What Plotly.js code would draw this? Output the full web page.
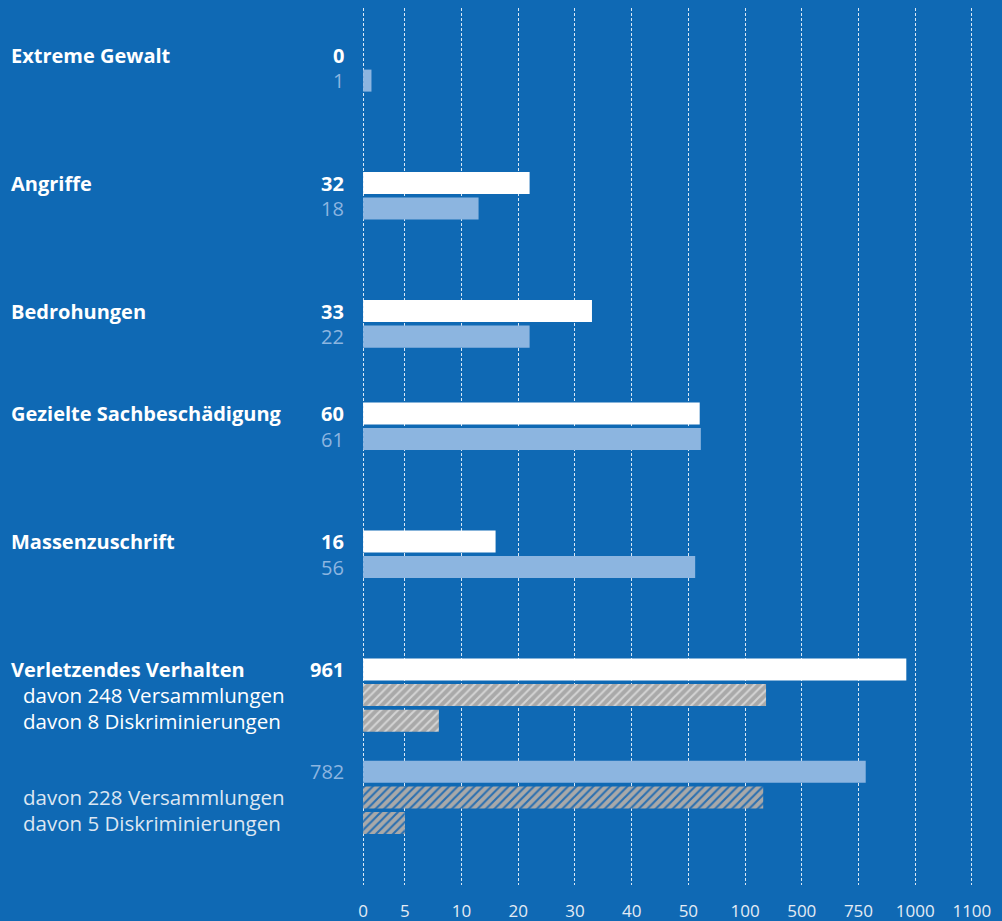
<!DOCTYPE html>
<html>
<head>
<meta charset="utf-8">
<script src="https://cdn.plot.ly/plotly-3.0.1.min.js"></script>
<style>
  html, body { margin: 0; padding: 0; background: #0F69B4; }
  #chart { width: 1002px; height: 921px; }
</style>
</head>
<body>
<div id="chart"></div>
<script>
// ---------------- DATA ----------------
const categories = ["Extreme Gewalt", "Angriffe", "Bedrohungen", "Gezielte Sachbeschädigung", "Massenzuschrift", "Verletzendes Verhalten"];
// printed values (labels)
const currentValues  = [0, 32, 33, 60, 16, 961];
const previousValues = [1, 18, 22, 61, 56, 782];
// bar lengths as drawn in the reference (the original draws "Angriffe" shorter than its labels)
const currentBars  = [0, 22, 33, 60, 16, 961];
const previousBars = [1, 13, 22, 61, 56, 782];
// breakdown of "Verletzendes Verhalten"
const subLabelsCurrent  = ["davon 248 Versammlungen", "davon 8 Diskriminierungen"];
const subValuesCurrent  = [248, 8];
const subLabelsPrevious = ["davon 228 Versammlungen", "davon 5 Diskriminierungen"];
const subValuesPrevious = [228, 5];
// axis ticks (non-linear, piecewise scale)
const tickValues = [0, 5, 10, 20, 30, 40, 50, 100, 500, 750, 1000, 1100];

// ---------------- LAYOUT HELPERS ----------------
// tick positions on the internal linear axis (first interval is shorter in the original)
const tickPos = tickValues.map((v, i) => i === 0 ? 0 : 0.736 + (i - 1));
function scale(v) {
  for (let i = 1; i < tickValues.length; i++) {
    if (v <= tickValues[i]) {
      const a = tickValues[i - 1], b = tickValues[i];
      return tickPos[i - 1] + (v - a) / (b - a) * (tickPos[i] - tickPos[i - 1]);
    }
  }
  return tickPos[tickPos.length - 1];
}
// row slots (vertical layout of the groups)
const slotCurrent  = [2, 7, 12, 16, 21, 26];
const slotPrevious = [3, 8, 13, 17, 22, 30];
const slotSubCurrent  = [27, 28];
const slotSubPrevious = [31, 32];

const BG = "#0F69B4";
const LIGHT = "#8CB5E0";
const FONT = "Open Sans, Noto Sans, sans-serif";
const barW = 0.86;

const plotLeft = 362, plotRight = 0, W = 1002;
const plotWidth = W - plotLeft - plotRight;
const px = (x) => (x - plotLeft) / plotWidth;

const traces = [
  {
    type: "bar", orientation: "h",
    y: slotCurrent, x: currentBars.map(scale),
    width: barW, marker: { color: "#FFFFFF", line: { width: 0 } },
    hoverinfo: "skip"
  },
  {
    type: "bar", orientation: "h",
    y: slotPrevious, x: previousBars.map(scale),
    width: barW, marker: { color: LIGHT, line: { width: 0 } },
    hoverinfo: "skip"
  },
  {
    type: "bar", orientation: "h",
    y: slotSubCurrent, x: subValuesCurrent.map(scale),
    width: barW,
    marker: { color: "#A9A9A9", line: { width: 0 },
      pattern: { shape: "/", bgcolor: "#A9A9A9", fgcolor: "#D4D4D4", size: 6, solidity: 0.35 } },
    hoverinfo: "skip"
  },
  {
    type: "bar", orientation: "h",
    y: slotSubPrevious, x: subValuesPrevious.map(scale),
    width: barW,
    marker: { color: "#A9A9A9", line: { width: 0 },
      pattern: { shape: "/", bgcolor: "#A9A9A9", fgcolor: "#2A6FB0", size: 6, solidity: 0.35 } },
    hoverinfo: "skip"
  }
];

const annotations = [];
categories.forEach((c, i) => {
  annotations.push({ xref: "paper", yref: "y", x: px(9), y: slotCurrent[i], text: "<b>" + c + "</b>",
    showarrow: false, xanchor: "left", yanchor: "middle", font: { family: FONT, size: 20, color: "#FFFFFF" } });
  annotations.push({ xref: "paper", yref: "y", x: px(346), y: slotCurrent[i], text: "<b>" + currentValues[i] + "</b>",
    showarrow: false, xanchor: "right", yanchor: "middle", font: { family: FONT, size: 20, color: "#FFFFFF" } });
  annotations.push({ xref: "paper", yref: "y", x: px(346), y: slotPrevious[i], text: String(previousValues[i]),
    showarrow: false, xanchor: "right", yanchor: "middle", font: { family: FONT, size: 20, color: LIGHT } });
});
subLabelsCurrent.forEach((t, i) => {
  annotations.push({ xref: "paper", yref: "y", x: px(21), y: slotSubCurrent[i], text: t,
    showarrow: false, xanchor: "left", yanchor: "middle", font: { family: FONT, size: 20.5, color: "#FFFFFF" } });
});
subLabelsPrevious.forEach((t, i) => {
  annotations.push({ xref: "paper", yref: "y", x: px(21), y: slotSubPrevious[i], text: t,
    showarrow: false, xanchor: "left", yanchor: "middle", font: { family: FONT, size: 20.5, color: "#DCE6F2" } });
});

const layout = {
  width: W, height: 921,
  margin: { l: plotLeft, r: plotRight, t: 8, b: 36, pad: 0 },
  paper_bgcolor: BG, plot_bgcolor: BG,
  showlegend: false, barmode: "overlay",
  xaxis: {
    range: [-0.02, (W - plotLeft) / 56.8],
    tickmode: "array", tickvals: tickPos, ticktext: tickValues.map(String),
    showgrid: true, gridcolor: "rgba(255,255,255,0.85)", gridwidth: 1, griddash: "3px,2px",
    zeroline: false, showline: false,
    ticks: "outside", ticklen: 11, tickcolor: "rgba(0,0,0,0)",
    tickfont: { family: FONT, size: 17, color: "#E4ECF5" },
    fixedrange: true
  },
  yaxis: {
    range: [34.42, 0.164],
    showgrid: false, zeroline: false, showline: false, showticklabels: false, ticks: "",
    fixedrange: true
  },
  annotations: annotations,
  hovermode: false
};

Plotly.newPlot("chart", traces, layout, { displayModeBar: false, staticPlot: true });
</script>
</body>
</html>
